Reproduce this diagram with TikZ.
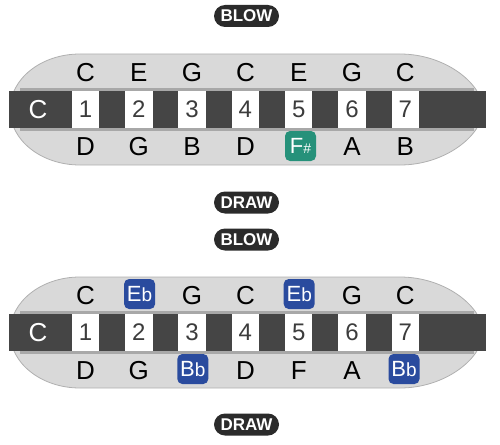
\documentclass[tikz,border=0pt]{standalone}
\usepackage{fontspec}
\setmainfont{Liberation Sans}
\definecolor{bodyfill}{HTML}{D9D9D9}
\definecolor{bodyline}{HTML}{B0B0B0}
\definecolor{bandgray}{HTML}{A8A8A8}
\definecolor{bargray}{HTML}{454545}
\definecolor{pillgray}{HTML}{2B2B2B}
\definecolor{numgray}{HTML}{3C3C3C}
\definecolor{badgeteal}{HTML}{26917A}
\definecolor{badgeblue}{HTML}{2A4B9E}
\begin{document}
\begin{tikzpicture}[x=1pt,y=-1pt,
  pilllabel/.style={fill=pillgray, text=white, rounded corners=11pt, minimum width=65pt, minimum height=22pt, inner sep=0pt, font=\fontsize{17}{17}\selectfont\bfseries},
  note/.style={font=\fontsize{26}{26}\selectfont, inner sep=0pt, text=black},
  barnote/.style={font=\fontsize{26}{26}\selectfont, inner sep=0pt, text=white},
  hole/.style={fill=white, minimum width=27.5pt, minimum height=37pt, inner sep=0pt, font=\fontsize{24}{24}\selectfont, text=numgray},
  badge/.style={rounded corners=5pt, minimum width=31pt, minimum height=30pt, inner sep=0pt, text=white},
  tealbadge/.style={badge, fill=badgeteal},
  bluebadge/.style={badge, fill=badgeblue},
  harpbody/.style={draw=bodyline, fill=bodyfill, line width=0.8pt}
]
\useasboundingbox (0,0) rectangle (500,444);
\node[pilllabel] (blow1) at (246.5,16) {BLOW};
\node[pilllabel] (draw1) at (246.5,202.5) {DRAW};
\node[pilllabel] (blow2) at (246.5,239.5) {BLOW};
\node[pilllabel] (draw2) at (246.5,424.5) {DRAW};

\foreach \k/\dy in {1/0,2/223} {
  \begin{scope}[yshift=-\dy pt]
    \draw[harpbody] (80,54) -- (400,54) .. controls (446,54) and (483,84.5) .. (483,109.5)
      .. controls (483,134.5) and (446,165) .. (400,165) -- (80,165)
      .. controls (41,165) and (10,140) .. (10,109.5) .. controls (10,79) and (41,54) .. (80,54) -- cycle;
    \fill[bandgray] (20,88) rectangle (474,131);
    \fill[bargray] (9,91) rectangle (486,128);
    \node[barnote] (h\k c) at (38,109.5) {C};
    \foreach \i in {1,...,7}
      \node[hole] (h\k n\i) at ({85.5+53.3*(\i-1)},109.5) {\i};
  \end{scope}
}

% harmonica 1
\foreach \i/\t in {1/C,2/E,3/G,4/C,5/E,6/G,7/C}
  \node[note] (h1t\i) at ({85.5+53.3*(\i-1)},72.5) {\t};
\foreach \i/\t in {1/D,2/G,3/B,4/D,6/A,7/B}
  \node[note] (h1b\i) at ({85.5+53.3*(\i-1)},147) {\t};
\node[tealbadge] (h1b5) at (300.5,146) {{\fontsize{22}{22}\selectfont F}{\fontsize{14}{14}\selectfont\#}};

% harmonica 2
\foreach \i/\t in {1/C,3/G,4/C,6/G,7/C}
  \node[note] (h2t\i) at ({85.5+53.3*(\i-1)},296) {\t};
\foreach \i/\t in {1/D,2/G,4/D,5/F,6/A}
  \node[note] (h2b\i) at ({85.5+53.3*(\i-1)},371) {\t};
\node[bluebadge] (h2t2) at (139.6,294) {{\fontsize{22}{22}\selectfont E}{\fontsize{19}{19}\selectfont b}};
\node[bluebadge] (h2t5) at (299.2,294) {{\fontsize{22}{22}\selectfont E}{\fontsize{19}{19}\selectfont b}};
\node[bluebadge] (h2b3) at (192.8,369) {{\fontsize{22}{22}\selectfont B}{\fontsize{19}{19}\selectfont b}};
\node[bluebadge] (h2b7) at (404,369) {{\fontsize{22}{22}\selectfont B}{\fontsize{19}{19}\selectfont b}};
\end{tikzpicture}
\end{document}
